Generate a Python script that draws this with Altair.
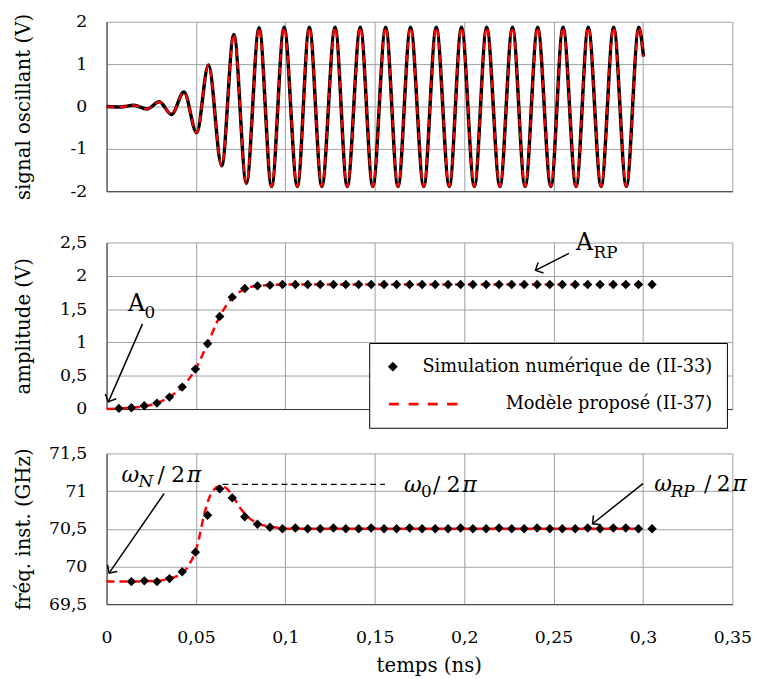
import altair as alt
import pandas as pd

FONT = "DejaVu Serif"
GRID = "#a0a0a0"
DOM = "#333333"
SIM = "Simulation numérique de (II-33)"
MOD = "Modèle proposé (II-37)"

# ---------------- data ----------------
x_ticks = [0, 0.05, 0.1, 0.15, 0.2, 0.25, 0.3, 0.35]

# top panel: oscillating signal, extrema (ns, V)
sig_t = [0.0, 0.0078, 0.0152, 0.0225, 0.0295, 0.0363, 0.0433, 0.0504, 0.0570, 0.0644,
         0.0712, 0.0782, 0.0853, 0.0923, 0.0993, 0.1067, 0.1134, 0.1204, 0.1278, 0.1346,
         0.1419, 0.1489, 0.1561, 0.1630, 0.1700, 0.1774, 0.1844, 0.1917, 0.1985, 0.2057,
         0.2126, 0.2200, 0.2270, 0.2341, 0.2411, 0.2485, 0.2553, 0.2626, 0.2694, 0.2766,
         0.2836, 0.2907, 0.2977, 0.3003]
sig_v = [0.0, -0.01, 0.03, -0.06, 0.11, -0.19, 0.34, -0.62, 0.98, -1.40,
         1.70, -1.81, 1.86, -1.89, 1.87, -1.89, 1.87, -1.89, 1.87, -1.89,
         1.87, -1.89, 1.87, -1.89, 1.87, -1.89, 1.87, -1.89, 1.87, -1.89,
         1.87, -1.89, 1.87, -1.89, 1.87, -1.89, 1.87, -1.89, 1.87, -1.89,
         1.87, -1.89, 1.87, 1.18]

# middle panel: simulated amplitude (diamonds)
sim_t = [0.0069, 0.0139, 0.0211, 0.0282, 0.0352, 0.0423, 0.0497, 0.0565, 0.0633, 0.0703,
         0.0773, 0.0844, 0.0914, 0.0984, 0.1056, 0.1125, 0.1195, 0.1269, 0.1338, 0.1410,
         0.1480, 0.1552, 0.1622, 0.1695, 0.1765, 0.1838, 0.1910, 0.1980, 0.2049, 0.2123,
         0.2195, 0.2266, 0.2336, 0.2408, 0.2479, 0.2549, 0.2621, 0.2691, 0.2760, 0.2834,
         0.2904, 0.2975, 0.3051]
amp_sim = [0.01, 0.02, 0.05, 0.09, 0.18, 0.33, 0.60, 0.98, 1.39, 1.68,
           1.81, 1.85, 1.86, 1.87, 1.87, 1.87, 1.87, 1.87, 1.87, 1.87,
           1.87, 1.87, 1.87, 1.87, 1.87, 1.87, 1.87, 1.87, 1.87, 1.87,
           1.87, 1.87, 1.87, 1.87, 1.87, 1.87, 1.87, 1.87, 1.87, 1.87,
           1.87, 1.87, 1.87]
# proposed model, amplitude (red dashed)
amp_mod_t = [0.0, 0.0069, 0.0139, 0.0211, 0.0282, 0.0352, 0.0423, 0.0497, 0.0565, 0.0633,
             0.0703, 0.0773, 0.0844, 0.0914, 0.1000, 0.2990]
amp_mod_v = [0.00, 0.01, 0.02, 0.04, 0.09, 0.18, 0.33, 0.60, 0.98, 1.39,
             1.67, 1.80, 1.85, 1.86, 1.87, 1.87]

# bottom panel: simulated instantaneous frequency (diamonds)
freq_t = sim_t[1:]
freq_sim = [69.80, 69.81, 69.80, 69.84, 69.93, 70.19, 70.68, 71.03, 70.91, 70.66,
            70.56, 70.52, 70.50, 70.51, 70.50, 70.50, 70.51, 70.50, 70.50, 70.51,
            70.50, 70.50, 70.51, 70.50, 70.50, 70.50, 70.51, 70.50, 70.50, 70.51,
            70.50, 70.50, 70.51, 70.50, 70.50, 70.50, 70.51, 70.50, 70.51, 70.51,
            70.50, 70.50]
freq_mod_t = [0.0, 0.0139, 0.0282, 0.0352, 0.0423, 0.0455, 0.0510, 0.0547, 0.0593, 0.0642,
              0.0693, 0.0749, 0.0822, 0.0933, 0.1050, 0.2990]
freq_mod_v = [69.80, 69.80, 69.81, 69.84, 69.91, 70.00, 70.30, 70.70, 71.00, 71.07,
              70.98, 70.77, 70.60, 70.52, 70.50, 70.50]

# annotation anchors (data units)
omega0_line = {"t": [0.0648], "t2": [0.1557], "v": [71.09]}
arrows_mid = {"t": [0.0201, 0.2586], "v": [1.279, 2.337],
              "t2": [0.0010, 0.2399], "v2": [0.108, 2.082], "ang": [113.6, 153.0]}
arrows_bot = {"t": [0.0322, 0.3000], "v": [70.968, 71.099],
              "t2": [0.0014, 0.2718], "v2": [69.913, 70.567], "ang": [124.8, 141.4]}

# ---------------- helpers ----------------
LBL = "replace(replace(format(datum.value, '~g'), '.', ','), '\u2212', '-')"
xscale = alt.Scale(domain=[0, 0.35], nice=False, zero=False)
DIAMOND = "diamond"
DASHES = ("M-0.8,-0.3L1.2,-0.3L1.2,0.3L-0.8,0.3Z M3.2,-0.3L5.2,-0.3L5.2,0.3L3.2,0.3Z "
          "M7.1,-0.3L9.1,-0.3L9.1,0.3L7.1,0.3Z M11,-0.3L13.1,-0.3L13.1,0.3L11,0.3Z")
CHEVRON = "M-1,-1L0,0L-1,1"


def yaxis(title, vals):
    return alt.Axis(values=vals, title=title, labelExpr=LBL, labelFont=FONT,
                    labelFontSize=17.5, labelColor="black", labelPadding=20,
                    labelFlush=False, ticks=False, domainColor=DOM, gridColor=GRID,
                    grid=True, titleFont=FONT, titleFontSize=20, titleFontWeight="normal",
                    titleColor="black", titlePadding=16.5, minExtent=58, maxExtent=58,
                    titleLimit=400)


def xaxis_hidden(tick_room):
    if tick_room > 0:
        return alt.Axis(values=x_ticks, labels=False, ticks=True, tickSize=tick_room,
                        tickColor="transparent", domainColor=DOM, grid=True,
                        gridColor=GRID, title=None)
    return alt.Axis(values=x_ticks, labels=False, ticks=False, domainColor=DOM,
                    grid=True, gridColor=GRID, title=None)


def xaxis_bottom():
    return alt.Axis(values=x_ticks, labelExpr=LBL, labelFont=FONT, labelFontSize=17.5,
                    labelColor="black", labelPadding=25, labelFlush=False, ticks=False,
                    domainColor=DOM, grid=True, gridColor=GRID, title="temps (ns)",
                    titleFont=FONT, titleFontSize=20, titleFontWeight="normal",
                    titleColor="black", titlePadding=10, titleX=327)


def text_piece(t, v, s, xenc, yenc, dx=0, dy=0, size=22, italic=False):
    d = pd.DataFrame({"t": [t], "v": [v], "s": [s]})
    return alt.Chart(d).mark_text(
        align="left", baseline="alphabetic", dx=dx, dy=dy, font=FONT, fontSize=size,
        fontStyle="italic" if italic else "normal", color="black"
    ).encode(xenc, yenc, text="s:N")


def arrows(d, xaxis, yscale, yaxis_obj):
    df = pd.DataFrame(d)
    shaft = alt.Chart(df).mark_rule(color="black", strokeWidth=1.5).encode(
        x=alt.X("t:Q", scale=xscale, axis=xaxis),
        y=alt.Y("v:Q", scale=yscale, axis=yaxis_obj),
        x2="t2:Q", y2="v2:Q")
    heads = []
    for i in range(len(df)):
        row = df.iloc[[i]]
        heads.append(alt.Chart(row).mark_point(
            shape=CHEVRON, filled=False, color="black", strokeWidth=1.5, size=144,
            opacity=1, angle=float(row["ang"].iloc[0])
        ).encode(x=alt.X("t2:Q", scale=xscale, axis=xaxis),
                 y=alt.Y("v2:Q", scale=yscale, axis=yaxis_obj)))
    return [shaft] + heads


# ---------------- top panel ----------------
df_sig = pd.DataFrame({"t": sig_t, "v": sig_v})
ys_top = alt.Scale(domain=[-2, 2], nice=False, zero=False)
x_top = alt.X("t:Q", scale=xscale, axis=xaxis_hidden(23))
y_top = alt.Y("v:Q", scale=ys_top, axis=yaxis("signal oscillant (V)", [-2, -1, 0, 1, 2]))
top = alt.layer(
    alt.Chart(df_sig).mark_line(color="black", strokeWidth=3.5, interpolate="monotone")
    .encode(x_top, y_top),
    alt.Chart(df_sig).mark_line(color="red", strokeWidth=2.2, strokeDash=[8, 5],
                                interpolate="monotone").encode(x_top, y_top),
).properties(width=635, height=172)

# ---------------- middle panel ----------------
df_amp = pd.DataFrame({"t": sim_t, "v": amp_sim, "serie": SIM})
df_amp_mod = pd.DataFrame({"t": amp_mod_t, "v": amp_mod_v})
ys_mid = alt.Scale(domain=[0, 2.5], nice=False, zero=False)
xa_mid = xaxis_hidden(0)
ya_mid = yaxis("amplitude (V)", [0, 0.5, 1, 1.5, 2, 2.5])
x_mid = alt.X("t:Q", scale=xscale, axis=xa_mid)
y_mid = alt.Y("v:Q", scale=ys_mid, axis=ya_mid)
leg = alt.Legend(title=None, orient="none", legendX=266.5, legendY=102,
                 labelFont=FONT, labelFontSize=18, labelColor="black",
                 labelAlign="right", labelOffset=315, labelLimit=400,
                 symbolSize=100, symbolStrokeWidth=0, padding=15, rowPadding=20,
                 fillColor="white", strokeColor="black")
mid_layers = [
    alt.Chart(df_amp_mod).mark_line(color="red", strokeWidth=2.5, strokeDash=[8, 5],
                                    interpolate="monotone").encode(x_mid, y_mid),
    alt.Chart(df_amp).mark_point(filled=True, size=90, opacity=1).encode(
        x_mid, y_mid,
        color=alt.Color("serie:N", scale=alt.Scale(domain=[SIM, MOD], range=["black", "red"]),
                        legend=leg),
        shape=alt.Shape("serie:N", scale=alt.Scale(domain=[SIM, MOD], range=[DIAMOND, DASHES]),
                        legend=leg)),
]
mid_layers += arrows(arrows_mid, xa_mid, ys_mid, ya_mid)
mid_layers += [
    text_piece(0.012, 1.476, "A", x_mid, y_mid, size=24),
    text_piece(0.012, 1.476, "0", x_mid, y_mid, dx=16.7, dy=7.4, size=17),
    text_piece(0.2626, 2.386, "A", x_mid, y_mid, size=24),
    text_piece(0.2626, 2.386, "RP", x_mid, y_mid, dx=17.7, dy=8.3, size=17),
]
mid = alt.layer(*mid_layers).properties(width=635, height=169)

# ---------------- bottom panel ----------------
df_freq = pd.DataFrame({"t": freq_t, "v": freq_sim})
df_freq_mod = pd.DataFrame({"t": freq_mod_t, "v": freq_mod_v})
ys_bot = alt.Scale(domain=[69.5, 71.5], nice=False, zero=False)
xa_bot = xaxis_bottom()
ya_bot = yaxis("fréq. inst. (GHz)", [69.5, 70, 70.5, 71, 71.5])
x_bot = alt.X("t:Q", scale=xscale, axis=xa_bot)
y_bot = alt.Y("v:Q", scale=ys_bot, axis=ya_bot)
bot_layers = [
    alt.Chart(df_freq_mod).mark_line(color="red", strokeWidth=2.5, strokeDash=[8, 5],
                                     interpolate="monotone").encode(x_bot, y_bot),
    alt.Chart(pd.DataFrame(omega0_line)).mark_rule(color="black", strokeWidth=1.3,
                                                   strokeDash=[6, 4]).encode(
        x_bot, y_bot, x2="t2:Q"),
    alt.Chart(df_freq).mark_point(filled=True, size=90, shape=DIAMOND, color="black",
                                  opacity=1).encode(x_bot, y_bot),
]
bot_layers += arrows(arrows_bot, xa_bot, ys_bot, ya_bot)
bot_layers += [
    text_piece(0.0084, 71.121, "ω", x_bot, y_bot, size=22, italic=True),
    text_piece(0.0084, 71.121, "N", x_bot, y_bot, dx=17.3, dy=5, size=17, italic=True),
    text_piece(0.0084, 71.121, "/", x_bot, y_bot, dx=36.5, size=22),
    text_piece(0.0084, 71.121, "2", x_bot, y_bot, dx=50.5, size=22),
    text_piece(0.0084, 71.121, "π", x_bot, y_bot, dx=66.5, size=22, italic=True),
    text_piece(0.1663, 70.99, "ω", x_bot, y_bot, size=22, italic=True),
    text_piece(0.1663, 70.99, "0", x_bot, y_bot, dx=17.4, dy=5, size=17),
    text_piece(0.1663, 70.99, "/", x_bot, y_bot, dx=29.5, size=22),
    text_piece(0.1663, 70.99, "2", x_bot, y_bot, dx=43.5, size=22),
    text_piece(0.1663, 70.99, "π", x_bot, y_bot, dx=59.5, size=22, italic=True),
    text_piece(0.3063, 71.003, "ω", x_bot, y_bot, size=22, italic=True),
    text_piece(0.3063, 71.003, "RP", x_bot, y_bot, dx=16.7, dy=6, size=17, italic=True),
    text_piece(0.3063, 71.003, "/", x_bot, y_bot, dx=50.5, size=22),
    text_piece(0.3063, 71.003, "2", x_bot, y_bot, dx=63.5, size=22),
    text_piece(0.3063, 71.003, "π", x_bot, y_bot, dx=79.5, size=22, italic=True),
]
bot = alt.layer(*bot_layers).properties(width=635, height=153)

chart = (alt.vconcat(top, mid, bot, spacing=16)
         .resolve_scale(color="independent", shape="independent")
         .resolve_legend(color="independent", shape="independent")
         .configure_view(stroke=None)
         .properties(background="white",
                     padding={"left": 5, "top": 0, "right": 5, "bottom": 0}))

chart.save("out.html", embed_options={"renderer": "svg", "actions": False})
